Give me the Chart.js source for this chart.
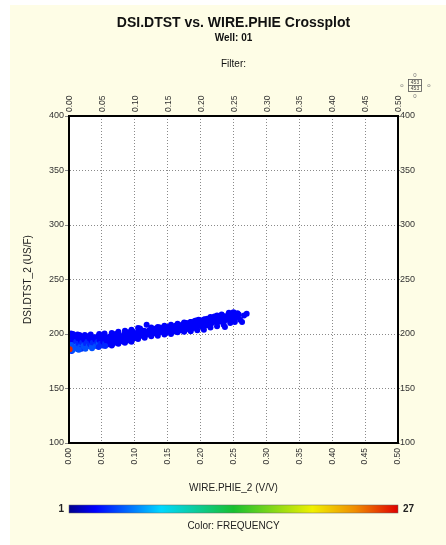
<!DOCTYPE html>
<html><head><meta charset="utf-8">
<script src="https://cdn.jsdelivr.net/npm/chart.js@4.4.1/dist/chart.umd.min.js"></script>
<style>html,body{margin:0;padding:0;background:#fff;overflow:hidden}#wrap{position:relative;width:446px;height:545px}</style>
</head><body><div id="wrap"><canvas id="c"></canvas></div>
<script>
// ---- data ----
const titleText = 'DSI.DTST vs. WIRE.PHIE Crossplot';
const subtitleText = 'Well: 01';
const filterText = 'Filter:';
const xAxisTitle = 'WIRE.PHIE_2 (V/V)';
const yAxisTitle = 'DSI.DTST_2 (US/F)';
const colorTitle = 'Color: FREQUENCY';
const xTickValues = [0.00,0.05,0.10,0.15,0.20,0.25,0.30,0.35,0.40,0.45,0.50];
const yTickValues = [100,150,200,250,300,350,400];
const freqRange = [1,27];
const pointCount = 453;
const phie = [
0.000,0.001,0.002,0.000,0.003,0.001,0.002,0.004,0.005,0.006,0.004,0.007,0.008,0.006,
0.010,0.011,0.012,0.013,0.014,0.015,0.016,0.017,0.018,0.019,0.020,0.021,
0.022,0.023,0.025,0.026,0.027,0.028,0.030,0.031,0.032,0.034,0.035,0.036,0.038,0.039,
0.040,0.041,0.043,0.044,0.045,0.047,0.048,0.049,0.051,0.052,0.053,0.055,0.056,0.058,0.059,
0.060,0.062,0.063,0.064,0.066,0.067,0.069,0.070,0.071,0.073,0.074,0.076,0.077,0.079,
0.080,0.082,0.083,0.084,0.086,0.087,0.089,0.090,0.091,0.093,0.094,0.096,0.097,0.099,
0.100,0.102,0.103,0.104,0.106,0.107,0.108,0.110,0.111,0.113,0.114,0.116,0.117,0.119,
0.120,0.122,0.123,0.125,0.126,0.128,0.129,0.131,0.132,0.134,0.135,0.137,0.138,0.140,
0.141,0.143,0.144,0.146,0.147,0.149,0.150,0.152,0.153,0.155,0.156,0.158,0.159,
0.161,0.162,0.164,0.165,0.167,0.168,0.170,0.171,0.173,0.174,0.176,0.177,0.179,
0.180,0.182,0.183,0.185,0.186,0.188,0.189,0.191,0.192,0.194,0.195,0.197,0.198,
0.200,0.201,0.203,0.204,0.206,0.207,0.209,0.210,0.212,0.213,0.215,0.216,0.218,0.219,
0.221,0.222,0.224,0.225,0.227,0.228,0.230,0.231,0.233,0.234,0.236,0.237,0.239,
0.240,0.242,0.244,0.245,0.247,0.249,0.251,0.253,0.255,0.258,0.260,0.263,0.266,0.270,
0.005,0.015,0.025,0.035,0.045,0.055,0.065,0.075,0.085,0.095,0.105,0.115,0.125,0.135,0.145,0.155,0.165,0.175,0.185,0.195,0.205,0.215,0.225,0.235,0.245,0.252,
0.003,0.013,0.024,0.033,0.046,0.054,0.065,0.075,0.085,0.095,0.105,0.118,0.125,0.135,0.145,0.155,0.165,0.175,0.185,0.193,0.205,0.215,0.225,0.232,0.243,0.250,0.256,
0.001
];
const dtst = [
199.5,197,195,193,191,189,186,184.5,198,194,190,187,196,200,
198.5,193,189,186,196,191,199,188,194,186.5,192,197,
189,195,187.5,191,198,193,189,196,190.5,194,188.5,192,197,190,
195,189,192.5,198,190.5,194,191,196,189.5,193,199,191.5,195,192,197,
190.5,194,198,192,195.5,191,197,193,200,194.5,192,196,198.5,193.5,
195,197.5,193,200,195.5,198,194,201.5,196.5,199,195,197.5,202,196,
199,197,201,198,203,199.5,205,198.5,201.5,199,203,200,202,199.5,
201,203.5,200,202,204.5,200.5,203,201,205,202,200.5,203.5,206,202,
204,201.5,205.5,203,201,204.5,206.5,202.5,205,203.5,207,202,205.5,
204,207.5,203,205.5,208,204.5,206.5,203.5,209,205,207,204,210,
206,208.5,205,211,207,209.5,205.5,212,208,206,210.5,213,207.5,
210,212.5,206.5,209,213.5,211,208,214,210.5,212,215,209.5,213,211,
216,212.5,214.5,210,216.5,213,215,211.5,217,214,212,206.5,216,
213.5,218,215,212,216.5,219,214,217.5,215.5,218,213,211,217,218.5,
185,185.5,186.5,187,188,189,189.5,191,192,193,195.5,196.5,198,198.5,199.5,200,201.5,202,202.5,203.5,204,206,207,208.5,210,211,
200.5,199.5,199,199.5,200,200.5,201,202,203,204,205.5,208.5,206,206.5,207.5,208.5,209.5,210.5,211,212.5,213,215.5,217,218,219.5,220,219,
186
];
const freq = [
3,3,3,4,4,5,5,4,3,3,5,5,3,3,
3,4,5,5,3,4,3,5,3,4,4,3,
5,3,5,4,3,4,5,3,4,3,5,4,3,4,
3,5,4,3,5,3,4,3,4,3,3,4,3,3,3,
3,3,3,3,3,3,3,3,3,3,3,3,3,3,
3,3,3,3,3,3,3,3,3,3,3,3,3,3,
3,3,3,3,3,3,3,3,3,3,3,3,3,3,
3,3,3,3,3,3,3,3,3,3,3,3,3,3,
3,3,3,3,3,3,3,3,3,3,3,3,3,
3,3,3,3,3,3,3,3,3,3,3,3,3,
3,3,3,3,3,3,3,3,3,3,3,3,3,
3,3,3,3,3,3,3,3,3,3,3,3,3,3,
3,3,3,3,3,3,3,3,3,3,3,3,3,
3,3,3,3,3,3,3,3,3,3,3,3,3,3,
5,5,5,5,4,4,3,3,3,3,3,3,3,3,3,3,3,3,3,3,3,3,3,3,3,3,
3,3,3,3,3,3,3,3,3,3,3,3,3,3,3,3,3,3,3,3,3,3,3,3,3,3,3,
26
];

// ---- style ----
const FONT = '"Liberation Sans", Arial, Helvetica, sans-serif';
const jetStops = [[0,'#00008c'],[0.08,'#0000ff'],[0.28,'#00d8ff'],[0.5,'#18c030'],[0.74,'#f0f000'],[0.87,'#f08c00'],[1,'#e00000']];
function hex2rgb(h){return [parseInt(h.slice(1,3),16),parseInt(h.slice(3,5),16),parseInt(h.slice(5,7),16)];}
function colorFor(f){
  const t=Math.max(0,Math.min(1,(f-freqRange[0])/(freqRange[1]-freqRange[0])));
  for(let i=1;i<jetStops.length;i++){
    if(t<=jetStops[i][0]){
      const a=jetStops[i-1],b=jetStops[i];const u=(t-a[0])/(b[0]-a[0]);
      const ca=hex2rgb(a[1]),cb=hex2rgb(b[1]);
      return 'rgb('+ca.map((v,k)=>Math.round(v+(cb[k]-v)*u)).join(',')+')';
    }
  }
  return jetStops[jetStops.length-1][1];
}
const points = phie.map((x,i)=>({x:x,y:dtst[i]}));
const colors = freq.map(colorFor);

const decor = {
  id:'decor',
  beforeDraw(chart){
    const ctx=chart.ctx, a=chart.chartArea;
    ctx.save();
    ctx.fillStyle='#ffffff';ctx.fillRect(0,0,chart.width,chart.height);
    ctx.fillStyle='#fefde6';ctx.fillRect(10,5,chart.width-10,chart.height-5);
    ctx.fillStyle='#ffffff';ctx.fillRect(a.left,a.top,a.right-a.left,a.bottom-a.top);
    ctx.restore();
  },
  afterDraw(chart){
    const ctx=chart.ctx, a=chart.chartArea;
    const cx=(a.left+a.right)/2, cy=(a.top+a.bottom)/2;
    ctx.save();
    // frame on top of marks
    ctx.strokeStyle='#000';ctx.lineWidth=2;ctx.strokeRect(a.left,a.top,a.right-a.left,a.bottom-a.top);
    ctx.textAlign='center';ctx.textBaseline='middle';ctx.fillStyle='#111';
    ctx.font='bold 14px '+FONT;ctx.fillText(titleText,cx,23);
    ctx.font='bold 10px '+FONT;ctx.fillText(subtitleText,cx,38);
    ctx.font='10px '+FONT;ctx.fillText(filterText,cx,64);
    ctx.fillStyle='#222';
    ctx.font='10px '+FONT;ctx.fillText(xAxisTitle,cx,488);
    ctx.save();ctx.translate(28,cy);ctx.rotate(-Math.PI/2);ctx.fillText(yAxisTitle,0,0);ctx.restore();
    // colorbar
    const g=ctx.createLinearGradient(a.left,0,a.right,0);
    jetStops.forEach(s=>g.addColorStop(s[0],s[1]));
    ctx.fillStyle=g;ctx.fillRect(a.left,505,a.right-a.left,8);
    ctx.strokeStyle='#666';ctx.lineWidth=0.5;ctx.strokeRect(a.left,505,a.right-a.left,8);
    ctx.fillStyle='#222';ctx.font='bold 10px '+FONT;
    ctx.textAlign='right';ctx.fillText(String(freqRange[0]),64,509.5);
    ctx.textAlign='left';ctx.fillText(String(freqRange[1]),403,509.5);
    ctx.textAlign='center';ctx.font='10px '+FONT;ctx.fillText(colorTitle,cx,526);
    // count icon
    ctx.strokeStyle='#555';ctx.lineWidth=0.8;
    ctx.strokeRect(408.5,79.5,13,12);
    ctx.beginPath();ctx.moveTo(408.5,85.5);ctx.lineTo(421.5,85.5);ctx.stroke();
    ctx.fillStyle='#444';ctx.font='5px '+FONT;
    ctx.fillText(String(pointCount),415,82.7);ctx.fillText(String(pointCount),415,88.7);
    ctx.fillStyle='#777';ctx.font='6px '+FONT;
    ctx.fillText('0',415,75);ctx.fillText('0',415,96);
    ctx.fillText('o',402,85);ctx.fillText('o',429,85);
    ctx.restore();
  }
};

const xTickFont={family:FONT,size:8.5};
const yTickFont={family:FONT,size:9};
const xTickCb=v=>Number(v).toFixed(2);
function xScale(pos,h,grid,pad,lo){
  return {type:'linear',position:pos,min:xTickValues[0],max:xTickValues[xTickValues.length-1],
    afterBuildTicks:s=>{s.ticks=xTickValues.map(v=>({value:v}));},
    afterFit:s=>{s.height=h;},
    ticks:{callback:xTickCb,minRotation:90,maxRotation:90,font:xTickFont,color:'#333',padding:pad,labelOffset:lo,autoSkip:false},
    grid:{display:grid,color:'#8a8a8a',lineWidth:1,drawTicks:false,tickLength:0},
    border:{display:true,color:'#000',width:2,dash:[1,2]}};
}
function yScale(pos,w,onChart,tl,pad){
  return {type:'linear',position:pos,min:yTickValues[0],max:yTickValues[yTickValues.length-1],
    afterBuildTicks:s=>{s.ticks=yTickValues.map(v=>({value:v}));},
    afterFit:s=>{s.width=w;},
    ticks:{font:yTickFont,color:'#333',padding:pad,autoSkip:false},
    grid:{display:true,drawOnChartArea:onChart,color:'#8a8a8a',lineWidth:1,drawTicks:true,tickLength:tl},
    border:{display:true,color:'#000',width:2,dash:[1,2]}};
}

new Chart(document.getElementById('c'),{
  type:'scatter',
  data:{datasets:[{label:'PHIE vs DTST',data:points,pointBackgroundColor:colors,pointBorderWidth:0,pointRadius:3,pointHoverRadius:3}]},
  options:{
    responsive:true,maintainAspectRatio:false,animation:false,devicePixelRatio:1,
    layout:{padding:0},
    plugins:{legend:{display:false},tooltip:{enabled:false},title:{display:false}},
    scales:{
      x:xScale('bottom',102,true,5,0),
      x2:xScale('top',116,false,4,11),
      y:yScale('left',69,true,4,1),
      y2:yScale('right',48,false,2,0)
    }
  },
  plugins:[decor]
});
</script></body></html>
